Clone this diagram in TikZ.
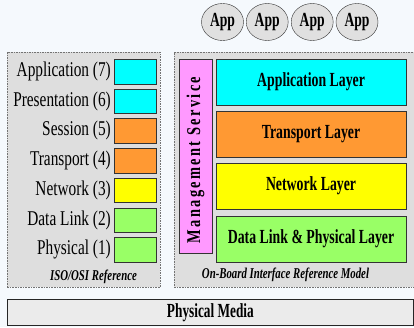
\documentclass[tikz,border=0pt]{standalone}
\usepackage{fontspec}
\setmainfont{Liberation Serif}
\usetikzlibrary{shapes.geometric}

\definecolor{pagebg}{HTML}{F5F9FD}
\definecolor{panelgray}{HTML}{DEDEDE}
\definecolor{laycyan}{HTML}{00FFFF}
\definecolor{layorange}{HTML}{FF9933}
\definecolor{layyellow}{HTML}{FFFF00}
\definecolor{laygreen}{HTML}{99FF66}
\definecolor{laypink}{HTML}{FF99FF}
\definecolor{appgray}{HTML}{E0E0E0}
\definecolor{mediagray}{HTML}{EBEBEB}

% condensed text: horizontal squeeze of the serif face
\newcommand{\narrow}[2]{\scalebox{#1}[1]{#2}}

\tikzset{
  panel/.style={draw=black!55, dash pattern=on 1.6pt off 1pt, fill=panelgray,
    anchor=north west, inner sep=0pt},
  osibox/.style={draw=black!80, fill=#1, anchor=north west, inner sep=0pt,
    minimum width=42pt, minimum height=24.5pt},
  osilabel/.style={anchor=east, inner sep=0pt,
    font=\fontsize{21}{23}\selectfont},
  layerbox/.style={draw=black!80, fill=#1, anchor=north west, inner sep=0pt,
    minimum width=190.3pt, minimum height=46pt,
    font=\fontsize{20}{22}\selectfont\bfseries},
  appnode/.style={ellipse, draw=black!80, fill=appgray, inner sep=0pt,
    minimum width=42pt, minimum height=37pt,
    font=\fontsize{20}{22}\selectfont\bfseries},
  caption/.style={inner sep=0pt,
    font=\fontsize{15}{17}\selectfont\bfseries\itshape},
}

\begin{document}
\begin{tikzpicture}[x=1pt,y=-1pt]
\useasboundingbox (0,0) rectangle (414,327);
\clip (0,0) rectangle (414,327);
\fill[pagebg] (0,0) rectangle (414,327);

% application processes
\node[appnode] (app1) at (222.5,22) {\narrow{0.68}{App}};
\node[appnode] (app2) at (267.2,22) {\narrow{0.68}{App}};
\node[appnode] (app3) at (312.2,22) {\narrow{0.68}{App}};
\node[appnode] (app4) at (357,22)   {\narrow{0.68}{App}};

% ISO/OSI reference stack
\node[panel, minimum width=153pt, minimum height=235pt] (osi) at (7,52) {};
\node[osibox=laycyan]   (l7) at (114,59)    {};
\node[osibox=laycyan]   (l6) at (114,88.7)  {};
\node[osibox=layorange] (l5) at (114,118.4) {};
\node[osibox=layorange] (l4) at (114,148.1) {};
\node[osibox=layyellow] (l3) at (114,177.8) {};
\node[osibox=laygreen]  (l2) at (114,207.5) {};
\node[osibox=laygreen]  (l1) at (114,237.2) {};
\node[osilabel] (t7) at ([xshift=-3pt]l7.west) {\narrow{0.73}{Application (7)}};
\node[osilabel] (t6) at ([xshift=-3pt]l6.west) {\narrow{0.73}{Presentation (6)}};
\node[osilabel] (t5) at ([xshift=-3pt]l5.west) {\narrow{0.73}{Session (5)}};
\node[osilabel] (t4) at ([xshift=-3pt]l4.west) {\narrow{0.73}{Transport (4)}};
\node[osilabel] (t3) at ([xshift=-3pt]l3.west) {\narrow{0.73}{Network (3)}};
\node[osilabel] (t2) at ([xshift=-3pt]l2.west) {\narrow{0.73}{Data Link (2)}};
\node[osilabel] (t1) at ([xshift=-3pt]l1.west) {\narrow{0.73}{Physical (1)}};
\node[caption] (osicap) at (93.5,277) {\narrow{0.72}{ISO/OSI Reference}};

% on-board interface reference model
\node[panel, minimum width=250pt, minimum height=235pt] (obi) at (174,52) {};
\node[draw=black!80, fill=laypink, anchor=north west, inner sep=0pt,
      minimum width=32.7pt, minimum height=194pt] (mgmt) at (179,59) {};
\node[rotate=90, inner sep=0pt, font=\fontsize{19.5}{21}\selectfont\bfseries]
  (mgmttext) at (195.5,160)
  {\narrow{0.74}{\addfontfeature{LetterSpace=16}Management Service}};
\node[layerbox=laycyan]   (applayer) at (215.7,59)  {\narrow{0.69}{Application Layer}};
\node[layerbox=layorange] (trnlayer) at (215.7,111) {\narrow{0.69}{Transport Layer}};
\node[layerbox=layyellow] (netlayer) at (215.7,163) {\narrow{0.69}{Network Layer}};
\node[layerbox=laygreen]  (dllayer)  at (215.7,216) {\narrow{0.69}{Data Link \& Physical Layer}};
\node[caption] (obicap) at (285.5,275) {\narrow{0.72}{On-Board Interface Reference Model}};

% shared medium
\node[draw=black!85, line width=0.8pt, fill=mediagray, anchor=north west,
      inner sep=0pt, minimum width=405.4pt, minimum height=26pt] (media) at (7.3,299) {};
\node[inner sep=0pt, font=\fontsize{20}{22}\selectfont\bfseries] (mediatext)
  at (media.center) {\narrow{0.665}{Physical Media}};
\end{tikzpicture}
\end{document}
